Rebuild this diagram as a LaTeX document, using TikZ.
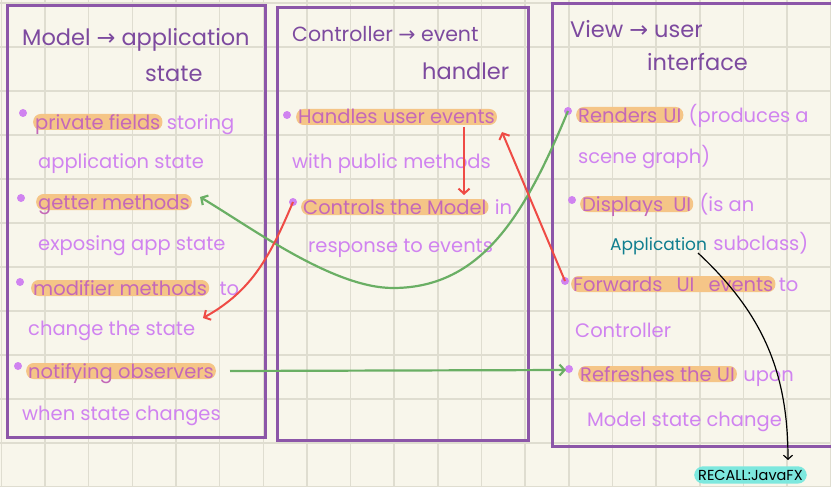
\documentclass[tikz,border=0pt]{standalone}
\usepackage{fontspec}
\setmainfont{Poppins}
\newfontfamily\symfont{DejaVu Sans}
\usetikzlibrary{arrows.meta}

\definecolor{paper}{HTML}{F8F6EB}
\definecolor{gridc}{HTML}{DFDDD0}
\definecolor{panelc}{HTML}{8C56A8}
\definecolor{titlec}{HTML}{7D4A9F}
\definecolor{bodyc}{HTML}{D083F0}
\definecolor{hltext}{HTML}{C468B8}
\definecolor{hlc}{HTML}{F5C587}
\definecolor{greenc}{HTML}{6AAF64}
\definecolor{redc}{HTML}{EF4B45}
\definecolor{tealc}{HTML}{0F7E8F}
\definecolor{cyanc}{HTML}{7DE8DE}

\newcommand{\arr}{{\symfont →}}

\tikzset{
  gridline/.style={draw=gridc, line width=1.5pt},
  panel/.style={draw=panelc, line width=3pt},
  title/.style={font=\fontsize{22.5}{24}\selectfont, text=titlec, anchor=base west, inner sep=0pt},
  body/.style={font=\fontsize{19.5}{21}\selectfont, text=bodyc, anchor=base west, inner sep=0pt},
  hl/.style={body, text=hltext, fill=hlc, rounded corners=7.5pt, text height=15pt, text depth=1pt, inner xsep=2pt, inner ysep=0pt},
  dot/.style={circle, fill=bodyc, inner sep=0pt, minimum size=8pt},
  barb/.style={-{Straight Barb[length=5pt, width=11pt]}},
  gline/.style={barb, draw=greenc, line width=2.2pt},
  rline/.style={barb, draw=redc, line width=2pt},
  bline/.style={-{Straight Barb[length=4pt, width=9pt]}, draw=black, line width=1.2pt},
}

\begin{document}
\begin{tikzpicture}[x=1pt, y=-1pt]
\useasboundingbox (0,0) rectangle (831,487);
\clip (0,0) rectangle (831,487);
\fill[paper] (0,0) rectangle (831,487);

% squared paper
\foreach \i in {0,...,19} \draw[gridline] ({1.35+43.65*\i},0) -- ++(0,487);
\foreach \j in {0,...,11} \draw[gridline] (0,{3+44*\j}) -- ++(831,0);

% three panels
\draw[panel] (7.5,6) rectangle (265,437.5);
\draw[panel] (277,7.5) rectangle (528.5,440);
\draw[panel] (552,4) rectangle (845,446);

% ---- Model ----
\node[title] (mt1) at (22,46) {Model \arr\ application};
\node[title] (mt2) at (145,82) {state};
\node[dot] (m1) at (23,113) {};
\node[hl] (m1h) at (33,129) {private fields};
\node[body] (m1t) at ([xshift=4pt]m1h.base east) {storing};
\node[body] (m1b) at (38,168) {application state};
\node[dot] (m2) at (21,198) {};
\node[hl] (m2h) at (36,209) {getter methods};
\node[body] (m2b) at (38,250) {exposing app state};
\node[dot] (m3) at (20,282) {};
\node[hl] (m3h) at (31,295) {modifier methods};
\node[body] (m3t) at ([xshift=10pt]m3h.base east) {to};
\node[body] (m3b) at (28,335) {change the state};
\node[dot] (m4) at (18,366) {};
\node[hl] (m4h) at (26,378) {notifying observers};
\node[body] (m4b) at (22,420) {when state changes};

% ---- Controller ----
\node[title, font=\fontsize{20.5}{22}\selectfont] (ct1) at (292,42) {Controller \arr\ event};
\node[title] (ct2) at (422,80) {handler};
\node[dot] (c1) at (287,115) {};
\node[hl] (c1h) at (296,124) {Handles user events};
\node[body] (c1b) at (292,168) {with public methods};
\node[dot] (c2) at (293,202) {};
\node[hl] (c2h) at (301,214) {Controls the Model};
\node[body] (c2t) at ([xshift=6pt]c2h.base east) {in};
\node[body] (c2b) at (308,252) {response to events};

% ---- View ----
\node[title] (vt1) at (570,38) {View \arr\ user};
\node[title] (vt2) at (647,71) {interface};
\node[dot] (v1) at (568,111) {};
\node[hl] (v1h) at (576,122) {Renders\hspace{6pt}UI};
\node[body] (v1t) at ([xshift=5pt]v1h.base east) {(produces a};
\node[body] (v1b) at (578,163) {scene graph)};
\node[dot] (v2) at (572,200) {};
\node[hl] (v2h) at (580,211) {Displays\hspace{10pt}UI};
\node[body] (v2t) at ([xshift=6pt]v2h.base east) {(is an};
\node[body, text=tealc, font=\fontsize{17}{19}\selectfont] (app) at (610,250) {Application};
\node[body] (v2b) at ([xshift=6pt]app.base east) {subclass)};
\node[dot] (v3) at (565,281) {};
\node[hl] (v3h) at (571,291) {Forwards\hspace{14pt}UI\hspace{14pt}events};
\node[body] (v3t) at ([xshift=3pt]v3h.base east) {to};
\node[body] (v3b) at (575,337) {Controller};
\node[dot] (v4) at (569,369) {};
\node[hl] (v4h) at (578,381) {Refreshes the UI};
\node[body] (v4t) at ([xshift=6pt]v4h.base east) {upon};
\node[body] (v4b) at (587,426) {Model state change};

\node[font=\fontsize{14.5}{15}\selectfont, text=black, fill=cyanc, rounded corners=9pt,
      inner xsep=4pt, inner ysep=3.5pt, anchor=base west] (recall) at (694,480) {RECALL:JavaFX};

% ---- connector ends ----
\coordinate (gtip) at (200,197);
\coordinate (mtip) at (203,318);
\coordinate (hs) at (464,127);
\coordinate (ht) at (464,195);
\coordinate (ftip) at (502,132);
\coordinate (ns) at (230,371);
\coordinate (ntip) at (566,370);
\coordinate (as) at (698,253);
\coordinate (atip) at (788,460);

% ---- connectors ----
\draw[gline] (v1.center) .. controls (526,212) and (483,288) .. (393,288)
                         .. controls (333,288) and (252,228) .. (gtip);
\draw[rline] (c2.center) to[out=247, in=29] (mtip);
\draw[rline] (hs) -- (ht);
\draw[rline] (v3.center) -- (ftip);
\draw[gline] (ns) -- (ntip);
\draw[bline] (as) to[out=-43, in=90] (atip);
\end{tikzpicture}
\end{document}
